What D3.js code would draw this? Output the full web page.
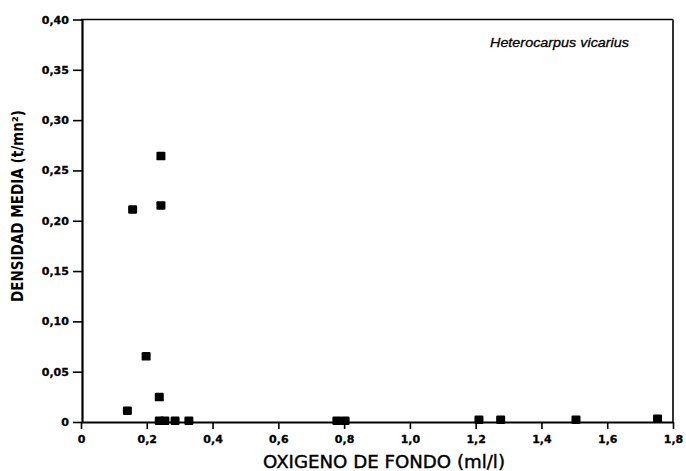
<!DOCTYPE html>
<html><head><meta charset="utf-8">
<script src="https://cdn.jsdelivr.net/npm/d3@7"></script>
<style>body{margin:0;background:#fff}svg{display:block}</style>
</head><body>
<svg id="c" width="686" height="471"></svg>
<script>
const oxygen  = [0.141,0.157,0.198,0.238,0.243,0.243,0.238,0.255,0.286,0.328,0.778,0.803,1.21,1.276,1.505,1.753];
const density = [0.011,0.211,0.065,0.0245,0.215,0.264,0.001,0.001,0.001,0.001,0.001,0.001,0.002,0.002,0.002,0.003];
const xTicks = [0,0.2,0.4,0.6,0.8,1.0,1.2,1.4,1.6,1.8];
const yTicks = [0,0.05,0.10,0.15,0.20,0.25,0.30,0.35,0.40];
const species = "Heterocarpus vicarius";
const xTitle = "OXIGENO DE FONDO (ml/l)";
const yTitle = "DENSIDAD MEDIA (t/mn²)";

const svg = d3.select("#c");
const L=81, R=673, T=19.5, B=422;
const x = d3.scaleLinear().domain([0,1.8]).range([L,R]);
const y = d3.scaleLinear().domain([0,0.4]).range([B,T]);
const comma = v => v===0 ? "0" : d3.format(".1f")(v).replace(".",",");
const comma2 = v => v===0 ? "0" : d3.format(".2f")(v).replace(".",",");

const font = "DejaVu Sans";
// frame
svg.append("line").attr("x1",R).attr("x2",R).attr("y1",T).attr("y2",B).attr("stroke","#000").attr("stroke-width",1.6);
svg.append("line").attr("x1",L).attr("x2",R).attr("y1",T).attr("y2",T).attr("stroke","#000").attr("stroke-width",1.4);

const xa = svg.append("g").attr("transform",`translate(0,${B})`)
  .call(d3.axisBottom(x).tickValues(xTicks).tickFormat(comma).tickSize(7).tickSizeOuter(0));
const ya = svg.append("g").attr("transform",`translate(${L+1},0)`)
  .call(d3.axisLeft(y).tickValues(yTicks).tickFormat(comma2).tickSize(9).tickSizeOuter(0));
[xa,ya].forEach(a=>{
  a.select(".domain").attr("stroke","#000").attr("stroke-width",2.2);
  a.selectAll(".tick line").attr("stroke","#000").attr("stroke-width",1.6);
  a.selectAll("text").attr("font-family",font).attr("font-weight","bold").attr("font-size",11)
    .attr("fill","#000").attr("stroke","#000").attr("stroke-width",0.3);
});
xa.selectAll("text").attr("dy","1.0em");
ya.selectAll("text").attr("dx","-0.1em");

// points
svg.append("g").selectAll("rect").data(oxygen.map((o,i)=>[o,density[i]])).join("rect")
  .attr("x",d=>x(d[0])-4.5).attr("y",d=>y(d[1])-4.5).attr("width",9).attr("height",8.5)
  .attr("rx",1.2).attr("fill","#000");

svg.append("text").attr("x",490).attr("y",47).attr("font-family","Liberation Sans").attr("font-style","italic")
  .attr("font-size",13.5).attr("textLength",139).attr("lengthAdjust","spacingAndGlyphs")
  .attr("stroke","#000").attr("stroke-width",0.3).text(species);

svg.append("text").attr("x",263).attr("y",468).attr("font-family",font)
  .attr("font-size",17).attr("textLength",242).attr("lengthAdjust","spacingAndGlyphs")
  .attr("stroke","#000").attr("stroke-width",0.4).text(xTitle);

svg.append("text").attr("transform","translate(23,302) rotate(-90)")
  .attr("font-family",font).attr("font-weight","bold").attr("font-size",15)
  .attr("textLength",192).attr("lengthAdjust","spacingAndGlyphs").text(yTitle);
</script>
</body></html>
